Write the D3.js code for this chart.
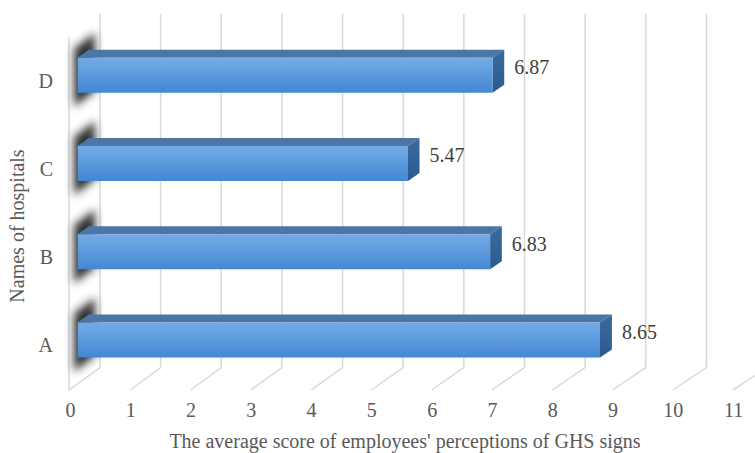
<!DOCTYPE html>
<html>
<head>
<meta charset="utf-8">
<script src="https://cdn.jsdelivr.net/npm/d3@7"></script>
<style>
  body { margin: 0; background: #fff; }
</style>
</head>
<body>
<div id="chart"></div>
<script>
// data
const hospitals = ['A', 'B', 'C', 'D'];
const scores = [8.65, 6.83, 5.47, 6.87];
const valueTicks = [0, 1, 2, 3, 4, 5, 6, 7, 8, 9, 10, 11];
const xTitle = "The average score of employees' perceptions of GHS signs";
const yTitle = 'Names of hospitals';

const width = 755, height = 453;
const serif = '"Liberation Serif", "Times New Roman", "DejaVu Serif", serif';

const svg = d3.select('#chart').append('svg')
  .attr('width', width)
  .attr('height', height)
  .attr('font-family', serif);

// 3d-ish projection: front plane + back plane, depth d in [0,1]
const xFront = d3.scaleLinear().domain([0, 11]).range([70, 733]);
const xBack = d3.scaleLinear().domain([0, 11]).range([100, 767]);
const y = d3.scaleBand().domain(hospitals.slice().reverse()).range([37, 390]);
const depthRise = 22.5;

function P(v, yf, d) {
  const x = xFront(v) * (1 - d) + xBack(v) * d;
  return [x, yf - depthRise * d];
}
const poly = pts => pts.map(p => p.join(',')).join(' ');

const defs = svg.append('defs');
const front = defs.append('linearGradient').attr('id', 'front')
  .attr('x1', 0).attr('y1', 0).attr('x2', 0).attr('y2', 1);
front.append('stop').attr('offset', '0%').attr('stop-color', '#74abe6');
front.append('stop').attr('offset', '100%').attr('stop-color', '#4387d3');
const endG = defs.append('linearGradient').attr('id', 'endface')
  .attr('x1', 0).attr('y1', 0).attr('x2', 0).attr('y2', 1);
endG.append('stop').attr('offset', '0%').attr('stop-color', '#3a6a9e');
endG.append('stop').attr('offset', '100%').attr('stop-color', '#2b5a8e');
defs.append('filter').attr('id', 'blur')
  .attr('x', '-100%').attr('y', '-50%').attr('width', '300%').attr('height', '200%')
  .append('feGaussianBlur').attr('stdDeviation', 4);

const grid = svg.append('g').attr('fill', 'none').attr('stroke', '#d9d9d9').attr('stroke-width', 1.5);
const yBottom = 390, yTop = 14;

// left wall
grid.append('polyline')
  .attr('points', poly([[xFront(0) - 1, 37], [xFront(0) - 1, yBottom], [xBack(0), yBottom - depthRise], [xBack(0), yTop]]));

// value gridlines: floor diagonal then up the back wall
valueTicks.filter(v => v > 0).forEach(v => {
  grid.append('polyline')
    .attr('points', poly([[xFront(v), yBottom], [xBack(v), yBottom - depthRise], [xBack(v), yTop]]));
});

const d1 = 0.26, d2 = 0.62, barH = 35;

// shadows cast on the left wall
svg.append('g').attr('filter', 'url(#blur)')
  .selectAll('polygon')
  .data(hospitals)
  .join('polygon')
  .attr('fill', '#222')
  .attr('opacity', 0.95)
  .attr('points', h => {
    const c = y(h) + y.bandwidth() / 2;
    const t = c - barH / 2 - 15, b = c + barH / 2 + 8;
    return poly([P(0, t, 0.0), P(0, t, 0.7), P(0, b, 0.7), P(0, b, 0.0)]);
  })
  .attr('transform', 'translate(4,0)');

const bars = svg.append('g').selectAll('g')
  .data(hospitals.map((h, i) => ({ h, v: scores[i] })))
  .join('g');

bars.each(function (d) {
  const g = d3.select(this);
  const c = y(d.h) + y.bandwidth() / 2;
  const t = c - barH / 2, b = c + barH / 2;
  g.append('polygon')
    .attr('fill', '#4b76a6')
    .attr('points', poly([P(0, t, d1), P(d.v, t, d1), P(d.v, t, d2), P(0, t, d2)]));
  g.append('polygon')
    .attr('fill', 'url(#endface)')
    .attr('points', poly([P(d.v, t, d1), P(d.v, t, d2), P(d.v, b, d2), P(d.v, b, d1)]));
  g.append('polygon')
    .attr('fill', 'url(#front)')
    .attr('points', poly([P(0, t, d1), P(d.v, t, d1), P(d.v, b, d1), P(0, b, d1)]));
  const lp = P(d.v, c, d2);
  g.append('text')
    .attr('x', lp[0] + 10)
    .attr('y', lp[1])
    .attr('dy', '0.35em')
    .attr('font-family', serif)
    .attr('font-size', 20)
    .attr('fill', '#404040')
    .text(d.v.toFixed(2));
});

// value axis labels
const xAxis = svg.append('g')
  .attr('transform', `translate(0,${403})`)
  .call(d3.axisBottom(xFront).tickValues(valueTicks).tickSize(0).tickPadding(0));
xAxis.select('.domain').remove();
xAxis.selectAll('text').attr('font-family', serif).attr('font-size', 20).attr('fill', '#595959');

// category labels
const yAxis = svg.append('g')
  .attr('transform', 'translate(53,0)')
  .call(d3.axisLeft(y).tickSize(0).tickPadding(0));
yAxis.select('.domain').remove();
yAxis.selectAll('text').attr('font-family', serif).attr('font-size', 20).attr('fill', '#595959');

svg.append('text')
  .attr('x', 405).attr('y', 448)
  .attr('text-anchor', 'middle')
  .attr('font-size', 20)
  .attr('fill', '#595959')
  .text(xTitle);

svg.append('text')
  .attr('transform', 'translate(24,226) rotate(-90)')
  .attr('text-anchor', 'middle')
  .attr('font-size', 20)
  .attr('fill', '#595959')
  .text(yTitle);
</script>
</body>
</html>
